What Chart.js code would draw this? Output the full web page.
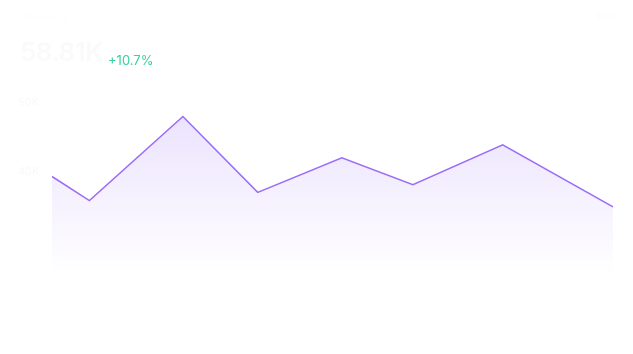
<!DOCTYPE html>
<html>
<head>
<meta charset="utf-8">
<script src="https://cdn.jsdelivr.net/npm/chart.js@4.4.0/dist/chart.umd.min.js"></script>
<style>
  html, body { margin: 0; padding: 0; background: #ffffff; }
  #wrap { position: relative; width: 633px; height: 354px; font-family: Inter, "Noto Sans", sans-serif; }
  #chart { position: absolute; left: 0; top: 0; }
  .title { position: absolute; left: 20px; top: 10px; font-size: 12px; color: #fdfdfd; }
  .range { position: absolute; right: 18px; top: 10px; font-size: 11px; color: #fcfcfc; }
  .value { position: absolute; left: 20px; top: 36px; font-size: 26px; font-weight: 600; color: #fafafa; letter-spacing: -0.5px; }
  .delta { position: absolute; left: 108px; top: 52px; font-size: 13px; color: #34d399; }
</style>
</head>
<body>
<div id="wrap">
  <canvas id="chart" width="633" height="354"></canvas>
  <div class="title">Revenue</div>
  <div class="range">30d</div>
  <div class="value">58.81K</div>
  <div class="delta">+10.7%</div>
</div>
<script>
// day of period / value in thousands
const days = [0, 2, 7, 11, 15.5, 19.3, 24.1, 30];
const revenue = [39.3, 35.8, 48.0, 37.0, 42.0, 38.1, 43.9, 34.9];
const tickValues = [50, 40];
const tickLabels = ['50K', '40K'];

const points = days.map((d, i) => ({ x: d, y: revenue[i] }));

// faint y labels drawn off the y scale
const yLabels = {
  id: 'yLabels',
  afterDraw(chart) {
    const ctx = chart.ctx;
    const y = chart.scales.y;
    ctx.save();
    ctx.font = '11px Inter, sans-serif';
    ctx.fillStyle = '#f9f9f9';
    ctx.textAlign = 'left';
    ctx.textBaseline = 'middle';
    tickValues.forEach((v, i) => {
      ctx.fillText(tickLabels[i], 18, y.getPixelForValue(v));
    });
    ctx.restore();
  }
};

const ctx = document.getElementById('chart');
new Chart(ctx, {
  type: 'line',
  data: {
    datasets: [{
      data: points,
      borderColor: '#9b6cf6',
      borderWidth: 1.5,
      pointRadius: 0,
      tension: 0,
      fill: 'start',
      backgroundColor: (c) => {
        const area = c.chart.chartArea;
        if (!area) return 'rgba(139,92,246,0.15)';
        const g = c.chart.ctx.createLinearGradient(0, area.top, 0, area.bottom);
        g.addColorStop(0, 'rgba(139,92,246,0.2)');
        g.addColorStop(1, 'rgba(139,92,246,0.0)');
        return g;
      },
    }],
  },
  options: {
    responsive: false,
    animation: false,
    layout: { padding: { left: 52, right: 20, top: 89, bottom: 79 } },
    plugins: { legend: { display: false }, tooltip: { enabled: false } },
    scales: {
      x: { type: 'linear', min: 0, max: 30, display: false },
      y: { min: 25, max: 52, display: false },
    },
  },
  plugins: [yLabels],
});
</script>
</body>
</html>
